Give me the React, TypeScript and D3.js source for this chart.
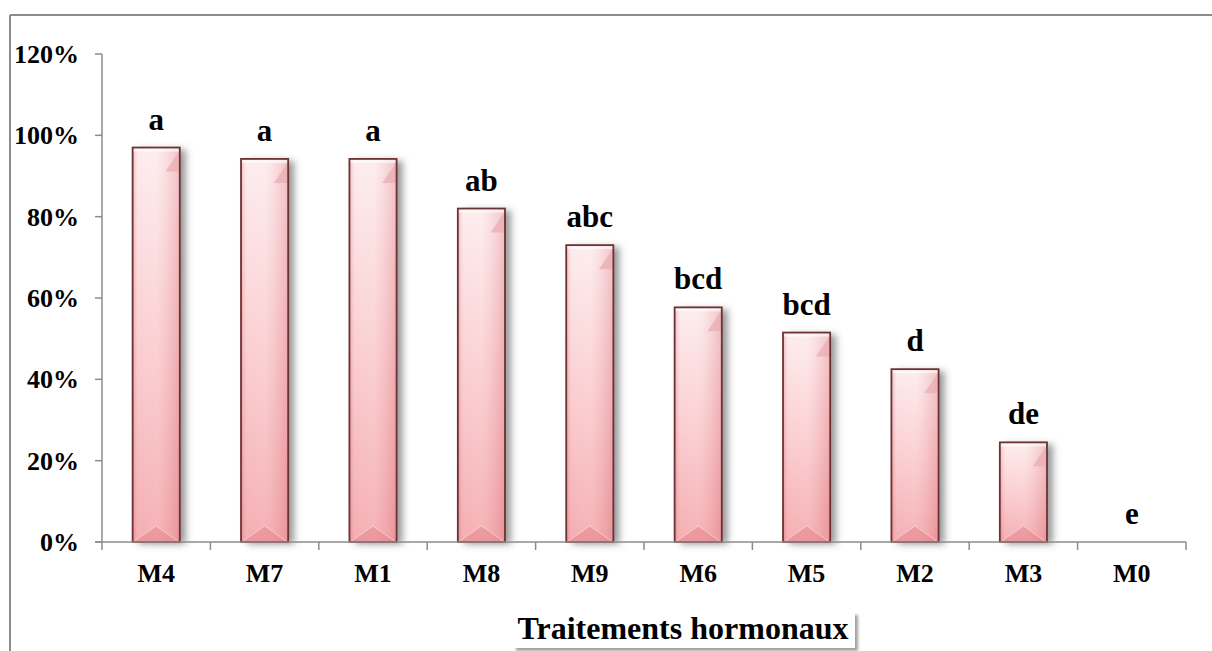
import React from "react";
import * as d3 from "d3";

const categories = ["M4", "M7", "M1", "M8", "M9", "M6", "M5", "M2", "M3", "M0"];
const values = [0.97, 0.942, 0.942, 0.82, 0.73, 0.577, 0.515, 0.425, 0.245, 0];
const letters = ["a", "a", "a", "ab", "abc", "bcd", "bcd", "d", "de", "e"];
const yTicks = [0, 0.2, 0.4, 0.6, 0.8, 1.0, 1.2];
const xTitle = "Traitements hormonaux";

const W = 1212;
const H = 651;
const plot = { left: 102, right: 1186, top: 54, bottom: 542 };
const serif = "'Liberation Serif', 'Times New Roman', serif";

export default function App() {
  const x = d3
    .scaleBand<string>()
    .domain(categories)
    .range([plot.left, plot.right])
    .paddingInner(0.565)
    .paddingOuter(0.2825);
  const y = d3.scaleLinear().domain([0, 1.2]).range([plot.bottom, plot.top]);
  const step = x.step();
  const bw = x.bandwidth();
  const fmt = d3.format(".0%");

  return (
    <svg
      width={W}
      height={H}
      style={{ position: "absolute", left: 0, top: 0, background: "#fff" }}
    >
      <defs>
        <linearGradient id="barV" x1="0" y1="0" x2="0" y2="1">
          <stop offset="0" stopColor="#fde9eb" />
          <stop offset="0.5" stopColor="#fac6c9" />
          <stop offset="1" stopColor="#f2a0a5" />
        </linearGradient>
        <linearGradient id="barH" x1="0" y1="0" x2="1" y2="0">
          <stop offset="0" stopColor="#c8646c" stopOpacity="0.35" />
          <stop offset="0.12" stopColor="#ffffff" stopOpacity="0.15" />
          <stop offset="0.5" stopColor="#ffffff" stopOpacity="0.2" />
          <stop offset="1" stopColor="#d9777e" stopOpacity="0.35" />
        </linearGradient>
        <filter id="shadow" x="-30%" y="-10%" width="180%" height="130%">
          <feDropShadow dx="6" dy="2" stdDeviation="3.5" floodColor="#555" floodOpacity="0.6" />
        </filter>
        <filter id="boxShadow" x="-10%" y="-30%" width="130%" height="180%">
          <feDropShadow dx="3" dy="3" stdDeviation="1.5" floodColor="#777" floodOpacity="0.7" />
        </filter>
      </defs>

      {/* outer frame */}
      <line x1={10} y1={15} x2={W} y2={15} stroke="#8c8c8c" strokeWidth={2} />
      <line x1={10} y1={15} x2={10} y2={H} stroke="#8c8c8c" strokeWidth={2} />

      {/* bars */}
      {categories.map((c, i) => {
        const v = values[i];
        if (v <= 0) return null;
        const x0 = x(c)!;
        const yt = y(v);
        const h = plot.bottom - yt;
        const bev = Math.min(16, h / 4);
        const cx = x0 + bw / 2;
        return (
          <g key={c}>
            <rect x={x0} y={yt} width={bw} height={h} fill="url(#barV)" filter="url(#shadow)" />
            <rect x={x0} y={yt} width={bw} height={h} fill="url(#barH)" />
            {/* top thin highlight strip */}
            <rect x={x0} y={yt} width={bw} height={4} fill="#ffffff" opacity={0.6} />
            {/* top-right bevel triangle */}
            <path
              d={`M${x0 + bw},${yt + 3} L${x0 + bw},${yt + bev * 1.5} L${x0 + bw - bev * 0.9},${yt + bev * 1.5} Z`}
              fill="#e9aeb2"
              opacity={0.75}
            />
            {/* bottom roof bevel */}
            <path
              d={`M${x0},${plot.bottom} L${cx},${plot.bottom - bev} L${x0 + bw},${plot.bottom} Z`}
              fill="#e27f87"
              opacity={0.5}
            />
            <path
              d={`M${x0 + 2},${plot.bottom - 1} L${cx},${plot.bottom - bev} L${x0 + bw - 2},${plot.bottom - 1}`}
              fill="none"
              stroke="#fbd3d6"
              strokeWidth={1}
              opacity={0.8}
            />
            <rect
              x={x0}
              y={yt}
              width={bw}
              height={h}
              fill="none"
              stroke="#6e3134"
              strokeWidth={1.8}
            />
          </g>
        );
      })}

      {/* y axis */}
      <line x1={plot.left} y1={plot.top} x2={plot.left} y2={plot.bottom} stroke="#8c8c8c" strokeWidth={1.5} />
      {yTicks.map((t) => (
        <g key={t}>
          <line x1={plot.left - 7} x2={plot.left} y1={y(t)} y2={y(t)} stroke="#8c8c8c" strokeWidth={1.5} />
          <text
            x={79}
            y={y(t) + 9}
            textAnchor="end"
            fontFamily={serif}
            fontWeight="bold"
            fontSize={26}
            fill="#000"
          >
            {fmt(t)}
          </text>
        </g>
      ))}

      {/* x axis */}
      <line x1={plot.left - 7} y1={plot.bottom} x2={plot.right} y2={plot.bottom} stroke="#8c8c8c" strokeWidth={1.5} />
      {d3.range(categories.length + 1).map((i) => {
        const xx = plot.left + i * step;
        return (
          <line key={i} x1={xx} x2={xx} y1={plot.bottom} y2={plot.bottom + 8} stroke="#8c8c8c" strokeWidth={1.5} />
        );
      })}
      {categories.map((c) => (
        <text
          key={c}
          x={x(c)! + bw / 2}
          y={582}
          textAnchor="middle"
          fontFamily={serif}
          fontWeight="bold"
          fontSize={26}
          fill="#000"
        >
          {c}
        </text>
      ))}

      {/* significance letters */}
      {categories.map((c, i) => (
        <text
          key={c + "l"}
          x={x(c)! + bw / 2}
          y={y(values[i]) - 18}
          textAnchor="middle"
          fontFamily={serif}
          fontWeight="bold"
          fontSize={31}
          fill="#000"
        >
          {letters[i]}
        </text>
      ))}

      {/* axis title box */}
      <rect x={513} y={612} width={342} height={36} fill="#fff" filter="url(#boxShadow)" />
      <text
        x={683}
        y={639}
        textAnchor="middle"
        fontFamily={serif}
        fontWeight="bold"
        fontSize={32}
        fill="#000"
      >
        {xTitle}
      </text>
    </svg>
  );
}
